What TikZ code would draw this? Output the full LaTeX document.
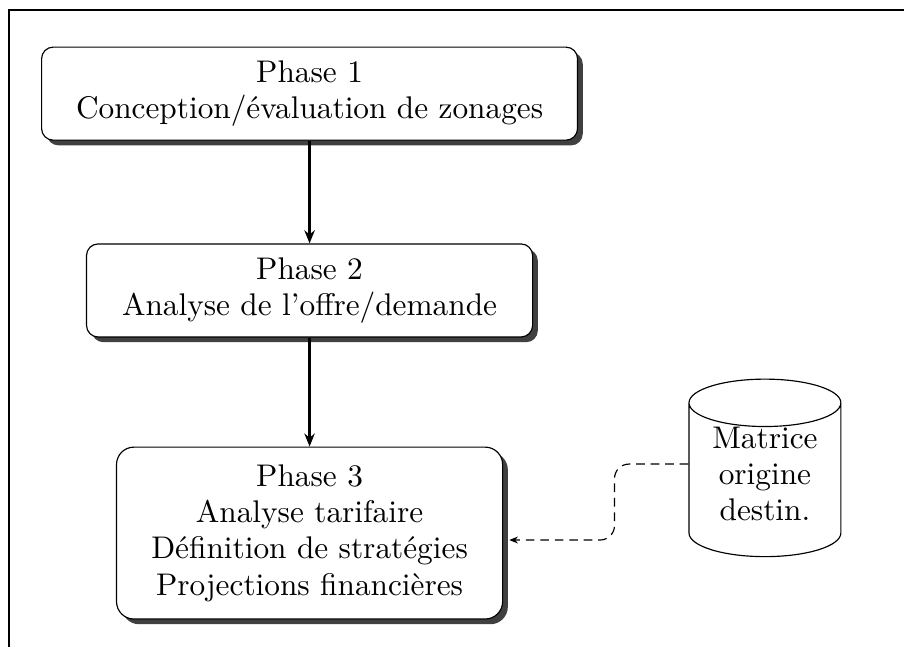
\documentclass[tikz,border=0pt]{standalone}
\usetikzlibrary{shapes.geometric,shadows,arrows.meta,calc}
\begin{document}
\begin{tikzpicture}[
  every node/.style={font=\fontsize{10.8}{12.5}\selectfont},
  phasebox/.style={draw, rounded corners=4pt, fill=white, align=center,
    drop shadow={shadow xshift=1.8pt, shadow yshift=-1.8pt, opacity=1, fill=black!75},
    inner sep=0pt},
  flowarrow/.style={thick, -{Stealth[length=4.5pt,width=3.6pt]}},
  dbarrow/.style={dash pattern=on 3pt off 2pt, rounded corners=5pt, -{Stealth[length=3pt,width=2.4pt]}}
]
\useasboundingbox (0,0) rectangle (311.88pt,-223.2pt);
\coordinate (ftl) at (3.1pt,-3.45pt);
\coordinate (ftr) at (311.88pt,-3.45pt);
\coordinate (fbl) at (3.1pt,-223.2pt);
\draw (ftr) -- (ftl) -- (fbl);
\node[phasebox, minimum width=184.9pt, minimum height=32.1pt] (b1) at (106.8pt,-32.3pt)
  {Phase 1\\Conception/évaluation de zonages};
\node[phasebox, minimum width=153.9pt, minimum height=32.1pt] (b2) at (106.8pt,-100.2pt)
  {Phase 2\\Analyse de l'offre/demande};
\node[phasebox, rounded corners=6pt, minimum width=133.2pt, minimum height=59.3pt] (b3) at (106.8pt,-183.9pt)
  {Phase 3\\Analyse tarifaire\\Définition de stratégies\\Projections financières};
\node[draw, cylinder, shape border rotate=90, aspect=0.45, align=center, text depth=4.14pt,
  minimum width=52.4pt, minimum height=60pt, inner sep=0pt] (cyl) at (263.9pt,-165.6pt)
  {Matrice\\origine\\destin.};
\draw[flowarrow] (b1.south) -- (b2.north);
\draw[flowarrow] (b2.south) -- (b3.north);
\coordinate (d0) at ($(cyl.west)+(0,5.5pt)$);
\coordinate (d3) at ($(b3.east)+(2.1pt,-2.4pt)$);
\draw[dbarrow] (d0) -- ++(-25.5pt,0) |- (d3);
\end{tikzpicture}
\end{document}
